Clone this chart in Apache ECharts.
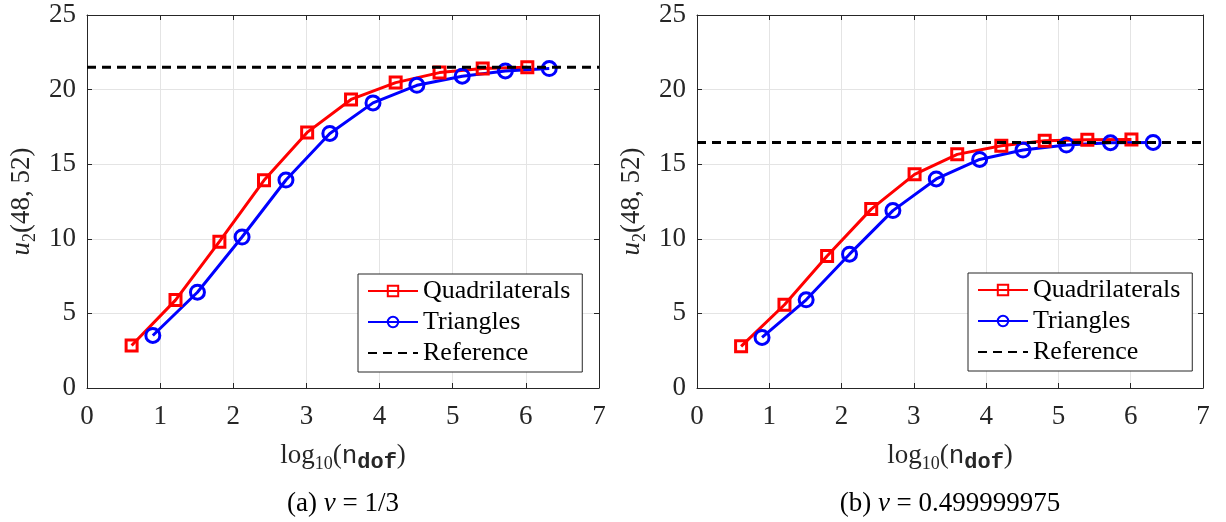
<!DOCTYPE html>
<html><head><meta charset="utf-8">
<script src="https://cdn.jsdelivr.net/npm/echarts@6/dist/echarts.min.js"></script>
<style>html,body{margin:0;padding:0;background:#fff}#c{width:1226px;height:522px}</style>
</head><body><div id="c"></div><script>
// ---- data ----
const seriesNames = ['Quadrilaterals', 'Triangles', 'Reference'];
const xRange = [0, 7];
const yRange = [0, 25];

// (a) nu = 1/3
const quadXa = [0.61, 1.21, 1.81, 2.42, 3.01, 3.61, 4.22, 4.82, 5.41, 6.02];
const quadYa = [2.85, 5.89, 9.81, 13.92, 17.13, 19.34, 20.47, 21.14, 21.41, 21.50];
const triXa  = [0.90, 1.51, 2.12, 2.72, 3.32, 3.91, 4.51, 5.13, 5.72, 6.32];
const triYa  = [3.52, 6.42, 10.12, 13.94, 17.06, 19.11, 20.29, 20.90, 21.25, 21.41];
const refA = [21.50];

// (b) nu = 0.499999975
const quadXb = [0.61, 1.21, 1.80, 2.41, 3.01, 3.60, 4.21, 4.81, 5.40, 6.01];
const quadYb = [2.79, 5.58, 8.85, 11.99, 14.32, 15.66, 16.24, 16.57, 16.64, 16.66];
const triXb  = [0.90, 1.51, 2.11, 2.71, 3.31, 3.91, 4.51, 5.11, 5.72, 6.31];
const triYb  = [3.39, 5.91, 8.97, 11.89, 14.01, 15.32, 15.95, 16.28, 16.44, 16.46];
const refB = [16.46];

const captions = [
  '{r|(a) }{i|ν}{r| = 1/3}',
  '{r|(b) }{i|ν}{r| = 0.499999975}'
];

// ---- styling ----
const SERIF = 'Liberation Serif';
const MONO = 'Liberation Mono';
const AX = '#262626';
const grids = [
  {left: 87, top: 15, width: 512, height: 373},
  {left: 697, top: 15, width: 506, height: 373}
];
const zip = (xs, ys) => xs.map((x, i) => [x, ys[i]]);

const tickRich = {a: {fontFamily: SERIF, fontSize: 27, color: AX}};
const tickFmt = v => '{a|' + v + '}';

const xName = '{r|log}{s|10}{r|(}{t|n}{ts|dof}{r|)}';
const xNameRich = {
  r: {fontFamily: SERIF, fontSize: 27, color: AX, lineHeight: 34, verticalAlign: 'middle'},
  s: {fontFamily: SERIF, fontSize: 18, color: AX, lineHeight: 20, verticalAlign: 'bottom'},
  t: {fontFamily: MONO, fontSize: 26, color: AX, lineHeight: 34, verticalAlign: 'middle'},
  ts: {fontFamily: MONO, fontSize: 22, color: AX, lineHeight: 24, verticalAlign: 'bottom', fontWeight: 'bold'}
};
const yName = '{i|u}{s|2}{r|(48, 52)}';
const yNameRich = {
  r: {fontFamily: SERIF, fontSize: 27, color: AX, lineHeight: 34},
  i: {fontFamily: SERIF, fontSize: 27, fontStyle: 'italic', color: AX, lineHeight: 34},
  s: {fontFamily: SERIF, fontSize: 18, color: AX, lineHeight: 20, verticalAlign: 'bottom'}
};

function mainX(gi) {
  return {
    type: 'value', gridIndex: gi, min: xRange[0], max: xRange[1], interval: 1, position: 'bottom',
    axisLine: {show: true, onZero: false, lineStyle: {color: AX, width: 1}},
    axisTick: {show: true, inside: true, length: 5, lineStyle: {color: AX}},
    axisLabel: {fontFamily: SERIF, fontSize: 27, color: AX, margin: 15, showMinLabel: true, showMaxLabel: true,
      formatter: tickFmt, rich: tickRich},
    splitLine: {show: true, lineStyle: {color: '#e4e4e4', width: 1}},
    name: xName, nameLocation: 'middle', nameGap: 51,
    nameTextStyle: {fontFamily: SERIF, rich: xNameRich}
  };
}
function topX(gi) {
  return {
    type: 'value', gridIndex: gi, min: xRange[0], max: xRange[1], interval: 1, position: 'top',
    axisLine: {show: true, onZero: false, lineStyle: {color: AX, width: 1}},
    axisTick: {show: true, inside: true, length: 5, lineStyle: {color: AX}},
    axisLabel: {show: false}, splitLine: {show: false}
  };
}
function mainY(gi) {
  return {
    type: 'value', gridIndex: gi, min: yRange[0], max: yRange[1], interval: 5, position: 'left',
    axisLine: {show: true, onZero: false, lineStyle: {color: AX, width: 1}},
    axisTick: {show: true, inside: true, length: 5, lineStyle: {color: AX}},
    axisLabel: {fontFamily: SERIF, fontSize: 27, color: AX, margin: 11, showMinLabel: true, showMaxLabel: true,
      formatter: tickFmt, rich: tickRich},
    splitLine: {show: true, lineStyle: {color: '#e4e4e4', width: 1}},
    name: yName, nameLocation: 'middle', nameGap: 48, nameRotate: 90,
    nameTextStyle: {fontFamily: SERIF, rich: yNameRich}
  };
}
function rightY(gi) {
  return {
    type: 'value', gridIndex: gi, min: yRange[0], max: yRange[1], interval: 5, position: 'right',
    axisLine: {show: true, onZero: false, lineStyle: {color: AX, width: 1}},
    axisTick: {show: true, inside: true, length: 5, lineStyle: {color: AX}},
    axisLabel: {show: false}, splitLine: {show: false}
  };
}

function dataSeries(name, xs, ys, gi, color, symbol, size) {
  return {
    name: name, type: 'line', xAxisIndex: gi * 2, yAxisIndex: gi * 2,
    data: zip(xs, ys), symbol: symbol, symbolSize: size, showSymbol: true,
    lineStyle: {color: color, width: 3},
    itemStyle: {color: 'rgba(255,255,255,0)', borderColor: color, borderWidth: 3},
    emphasis: {disabled: true}, animation: false, z: 3
  };
}
function refSeries(ref, gi) {
  return {
    name: 'Reference', type: 'line', xAxisIndex: gi * 2, yAxisIndex: gi * 2,
    data: [[xRange[0], ref[0]], [xRange[1], ref[0]]], symbol: 'none',
    lineStyle: {color: '#000', width: 3, type: [9, 6]},
    itemStyle: {color: '#000'},
    emphasis: {disabled: true}, animation: false, z: 4
  };
}

function legendAt(left, top) {
  return {
    left: left, top: top, orient: 'vertical', selectedMode: false,
    data: [
      {name: seriesNames[0]},
      {name: seriesNames[1]},
      {name: seriesNames[2], itemStyle: {opacity: 0}}
    ],
    formatter: n => '{a|' + n + '}',
    backgroundColor: '#fff', borderColor: AX, borderWidth: 1, borderRadius: 0,
    padding: [4, 12, 6, 9], itemGap: 5, itemWidth: 50, itemHeight: 13,
    textStyle: {fontFamily: SERIF, fontSize: 26, color: '#000', lineHeight: 26,
      rich: {a: {fontFamily: SERIF, fontSize: 26, color: '#000', lineHeight: 26}}}
  };
}

const chart = echarts.init(document.getElementById('c'), null, {renderer: 'canvas'});
chart.setOption({
  backgroundColor: '#fff',
  animation: false,
  textStyle: {fontFamily: SERIF},
  grid: grids.map(g => Object.assign({containLabel: false, outerBoundsMode: 'none'}, g)),
  xAxis: [mainX(0), topX(0), mainX(1), topX(1)],
  yAxis: [mainY(0), rightY(0), mainY(1), rightY(1)],
  legend: [legendAt(358, 274), legendAt(968, 273)],
  series: [
    dataSeries('Quadrilaterals', quadXa, quadYa, 0, '#ff0000', 'rect', 11),
    dataSeries('Triangles', triXa, triYa, 0, '#0000ff', 'circle', 14),
    refSeries(refA, 0),
    dataSeries('Quadrilaterals', quadXb, quadYb, 1, '#ff0000', 'rect', 11),
    dataSeries('Triangles', triXb, triYb, 1, '#0000ff', 'circle', 14),
    refSeries(refB, 1)
  ],
  graphic: captions.map((c, i) => ({
    type: 'text', x: grids[i].left + grids[i].width / 2, y: 504,
    style: {
      text: c, align: 'center', verticalAlign: 'middle', textAlign: 'center', textVerticalAlign: 'middle',
      rich: {
        r: {fontFamily: SERIF, fontSize: 27, fill: '#000'},
        i: {fontFamily: SERIF, fontSize: 27, fontStyle: 'italic', fill: '#000'}
      }
    }
  }))
});
</script></body></html>
